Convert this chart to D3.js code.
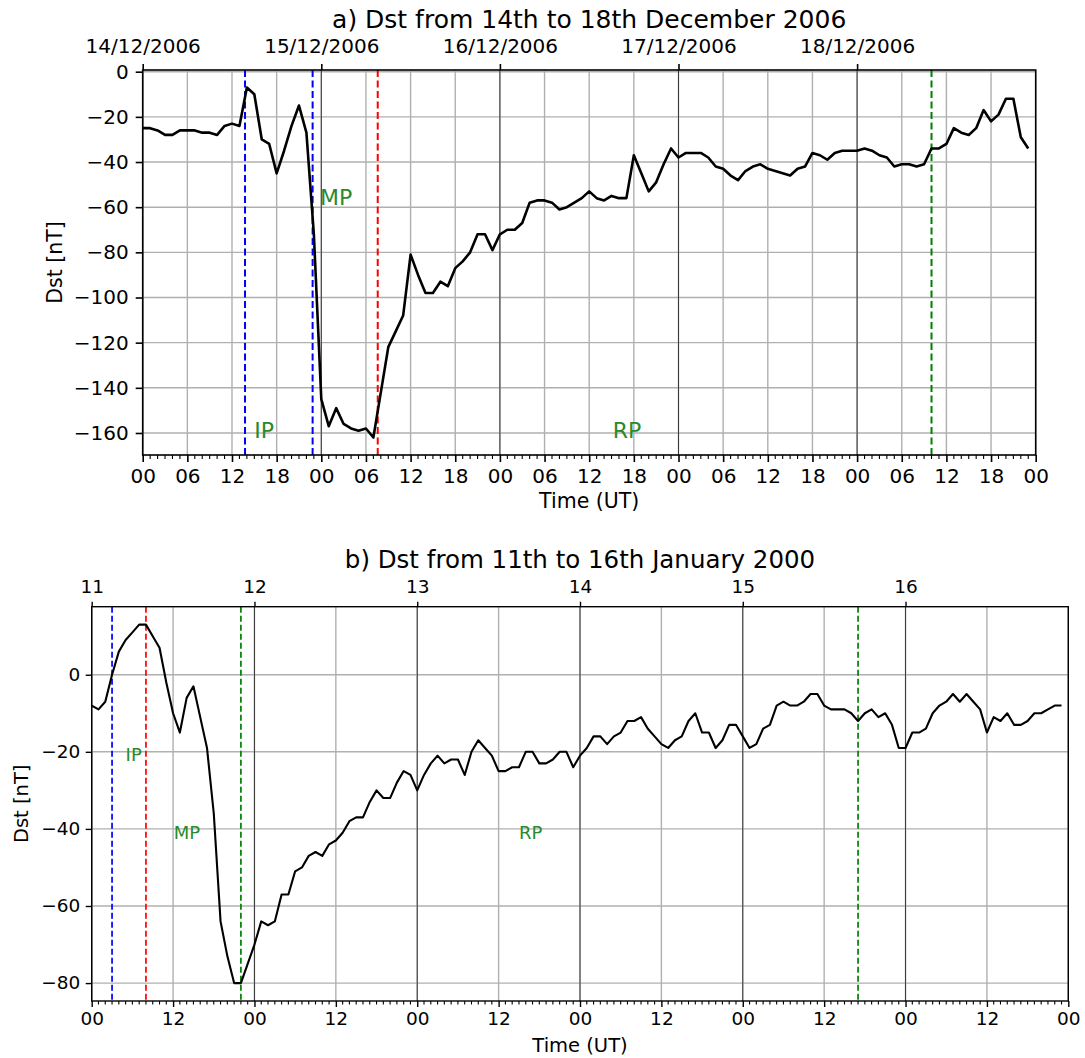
<!DOCTYPE html>
<html>
<head>
<meta charset="utf-8">
<script src="https://cdn.jsdelivr.net/npm/d3@7"></script>
<style>
  html, body { margin: 0; padding: 0; background: #fff; }
  svg { display: block; font-family: "DejaVu Sans", sans-serif; }
</style>
</head>
<body>
<svg id="chart" width="1085" height="1058"></svg>
<script>
// ---- Storm of 14-18 December 2006: hourly Dst [nT], starting 14/12/2006 00 UT ----
const decStart = "2006-12-14T00:00Z";
const decEnd = "2006-12-19T00:00Z";
const decDst = [
  -25, -25, -26, -28, -28, -26, -26, -26, -27, -27, -28, -24,
  -23, -24, -7, -10, -30, -32, -45, -35, -24, -15, -27, -72,
  -145, -157, -149, -156, -158, -159, -158, -162, -142, -122, -115, -108,
  -81, -90, -98, -98, -93, -95, -87, -84, -80, -72, -72, -79,
  -72, -70, -70, -67, -58, -57, -57, -58, -61, -60, -58, -56,
  -53, -56, -57, -55, -56, -56, -37, -45, -53, -49, -41, -34,
  -38, -36, -36, -36, -38, -42, -43, -46, -48, -44, -42, -41,
  -43, -44, -45, -46, -43, -42, -36, -37, -39, -36, -35, -35,
  -35, -34, -35, -37, -38, -42, -41, -41, -42, -41, -34, -34,
  -32, -25, -27, -28, -25, -17, -22, -19, -12, -12, -29, -34
];
const decEvents = [
  { time: "2006-12-14T13:45Z", color: "blue" },
  { time: "2006-12-14T22:50Z", color: "blue" },
  { time: "2006-12-15T07:35Z", color: "red" },
  { time: "2006-12-18T10:00Z", color: "green" }
];
const decPhases = [
  { text: "IP", time: "2006-12-14T15:00Z", value: -162 },
  { text: "MP", time: "2006-12-14T23:50Z", value: -59 },
  { text: "RP", time: "2006-12-16T15:10Z", value: -162 }
];
const decYTicks = [0, -20, -40, -60, -80, -100, -120, -140, -160];

// ---- Storm of 11-16 January 2000: hourly Dst [nT], starting 11/01/2000 00 UT ----
const janStart = "2000-01-11T00:00Z";
const janEnd = "2000-01-17T00:00Z";
const janDst = [
  -8, -9, -7, 0, 6, 9, 11, 13, 13, 10, 7, -2,
  -10, -15, -6, -3, -11, -19, -36, -64, -73, -80, -80, -75,
  -70, -64, -65, -64, -57, -57, -51, -50, -47, -46, -47, -44,
  -43, -41, -38, -37, -37, -33, -30, -32, -32, -28, -25, -26,
  -30, -26, -23, -21, -23, -22, -22, -26, -20, -17, -19, -21,
  -25, -25, -24, -24, -20, -20, -23, -23, -22, -20, -20, -24,
  -21, -19, -16, -16, -18, -16, -15, -12, -12, -11, -14, -16,
  -18, -19, -17, -16, -12, -10, -15, -15, -19, -17, -13, -13,
  -16, -19, -18, -14, -13, -8, -7, -8, -8, -7, -5, -5,
  -8, -9, -9, -9, -10, -12, -10, -9, -11, -10, -13, -19,
  -19, -15, -15, -14, -10, -8, -7, -5, -7, -5, -7, -9,
  -15, -11, -12, -10, -13, -13, -12, -10, -10, -9, -8, -8
];
const janEvents = [
  { time: "2000-01-11T03:00Z", color: "blue" },
  { time: "2000-01-11T08:00Z", color: "red" },
  { time: "2000-01-11T22:00Z", color: "green" },
  { time: "2000-01-15T17:00Z", color: "green" }
];
const janPhases = [
  { text: "IP", time: "2000-01-11T05:00Z", value: -22.5 },
  { text: "MP", time: "2000-01-11T12:05Z", value: -42.5 },
  { text: "RP", time: "2000-01-13T15:00Z", value: -42.5 }
];
const janYTicks = [0, -20, -40, -60, -80];

const svg = d3.select("#chart");
const minus = s => String(s).replace("-", "\u2212");

function drawPanel(cfg) {
  const t0 = new Date(cfg.start), t1 = new Date(cfg.end);
  const series = cfg.values.map((v, i) => ({ t: d3.utcHour.offset(t0, i), v }));

  const x = d3.scaleUtc().domain([t0, t1]).range([cfg.left, cfg.right]);
  const [lo, hi] = d3.extent(cfg.values);
  const pad = (hi - lo) * 0.05;
  const y = d3.scaleLinear().domain([lo - pad, hi + pad]).range([cfg.bottom, cfg.top]);

  const g = svg.append("g");

  // horizontal grid
  g.append("g").selectAll("line").data(cfg.yTicks).join("line")
    .attr("x1", cfg.left).attr("x2", cfg.right)
    .attr("y1", d => y(d)).attr("y2", d => y(d))
    .attr("stroke", "#b0b0b0").attr("stroke-width", 1.4);

  // vertical grid at the bottom-axis major ticks
  const majors = d3.utcHour.every(cfg.majorHours).range(t0, d3.utcHour.offset(t1, 1));
  g.append("g").selectAll("line").data(majors).join("line")
    .attr("x1", d => x(d)).attr("x2", d => x(d))
    .attr("y1", cfg.top).attr("y2", cfg.bottom)
    .attr("stroke", "#b0b0b0").attr("stroke-width", 1.4);

  // day boundaries from the date axis
  const days = d3.utcDay.range(t0, t1);
  g.append("g").selectAll("line").data(days).join("line")
    .attr("x1", d => x(d)).attr("x2", d => x(d))
    .attr("y1", cfg.top).attr("y2", cfg.bottom)
    .attr("stroke", "#3a3a3a").attr("stroke-width", 1);

  // phase boundary markers
  g.append("g").selectAll("line").data(cfg.events).join("line")
    .attr("x1", d => x(new Date(d.time))).attr("x2", d => x(new Date(d.time)))
    .attr("y1", cfg.top).attr("y2", cfg.bottom)
    .attr("stroke", d => d.color).attr("stroke-width", cfg.dashWidth)
    .attr("stroke-dasharray", cfg.dash);

  // Dst curve
  g.append("path").datum(series)
    .attr("fill", "none").attr("stroke", "#000")
    .attr("stroke-width", cfg.lineWidth).attr("stroke-linejoin", "round")
    .attr("d", d3.line().x(d => x(d.t)).y(d => y(d.v)));

  // phase labels
  g.append("g").selectAll("text").data(cfg.phases).join("text")
    .attr("x", d => x(new Date(d.time))).attr("y", d => y(d.value))
    .attr("fill", "#2a8a2a").attr("font-size", cfg.phaseFont)
    .text(d => d.text);

  // frame
  g.append("rect")
    .attr("x", cfg.left).attr("y", cfg.top)
    .attr("width", cfg.right - cfg.left).attr("height", cfg.bottom - cfg.top)
    .attr("fill", "none").attr("stroke", "#000").attr("stroke-width", cfg.spine);

  // bottom axis: hour of day
  const hourFmt = d3.utcFormat("%H");
  const bx = g.append("g").attr("transform", `translate(0,${cfg.bottom})`)
    .call(d3.axisBottom(x).tickValues(majors).tickFormat(hourFmt)
      .tickSize(cfg.tick).tickPadding(cfg.bottomPad));
  // hourly minor ticks
  const minors = d3.utcHour.range(t0, t1).filter(d => d.getUTCHours() % cfg.majorHours !== 0);
  g.append("g").selectAll("line").data(minors).join("line")
    .attr("x1", d => x(d)).attr("x2", d => x(d))
    .attr("y1", cfg.bottom).attr("y2", cfg.bottom + cfg.minorTick)
    .attr("stroke", "#000").attr("stroke-width", 1.1);

  // left axis
  const ly = g.append("g").attr("transform", `translate(${cfg.left},0)`)
    .call(d3.axisLeft(y).tickValues(cfg.yTicks).tickFormat(minus)
      .tickSize(cfg.tick).tickPadding(cfg.leftPad));

  // top axis: dates
  const tx = g.append("g").attr("transform", `translate(0,${cfg.top})`)
    .call(d3.axisTop(x).tickValues(days).tickFormat(d3.utcFormat(cfg.dayFormat))
      .tickSize(cfg.tick - 1).tickPadding(cfg.topPad));

  [bx, ly, tx].forEach(a => {
    a.select(".domain").remove();
    a.selectAll(".tick line").attr("stroke", "#000").attr("stroke-width", cfg.spine);
    a.selectAll(".tick text").attr("fill", "#000")
      .attr("font-size", cfg.tickFont).attr("font-family", "DejaVu Sans");
  });

  const cx = (cfg.left + cfg.right) / 2;
  const cy = (cfg.top + cfg.bottom) / 2;

  g.append("text").attr("x", cx).attr("y", cfg.titleY)
    .attr("text-anchor", "middle").attr("font-size", cfg.titleFont)
    .text(cfg.title);

  g.append("text").attr("x", cx).attr("y", cfg.xLabelY)
    .attr("text-anchor", "middle").attr("font-size", cfg.labelFont)
    .text("Time (UT)");

  g.append("text")
    .attr("transform", `translate(${cfg.yLabelX},${cy}) rotate(-90)`)
    .attr("text-anchor", "middle").attr("font-size", cfg.labelFont)
    .text("Dst [nT]");
}

drawPanel({
  title: "a) Dst from 14th to 18th December 2006",
  start: decStart, end: decEnd, values: decDst,
  events: decEvents, phases: decPhases, yTicks: decYTicks,
  left: 142.7, right: 1035.7, top: 70, bottom: 455,
  majorHours: 6, dayFormat: "%d/%m/%Y",
  tick: 7, minorTick: 4, bottomPad: 7, leftPad: 7, topPad: 11,
  tickFont: 20, labelFont: 20.5, titleFont: 25, phaseFont: 22,
  titleY: 28, xLabelY: 508, yLabelX: 62,
  lineWidth: 2.6, dashWidth: 2, dash: "7,3.5", spine: 1.6
});

drawPanel({
  title: "b) Dst from 11th to 16th January 2000",
  start: janStart, end: janEnd, values: janDst,
  events: janEvents, phases: janPhases, yTicks: janYTicks,
  left: 91.7, right: 1068.3, top: 606.7, bottom: 1001,
  majorHours: 12, dayFormat: "%-d",
  tick: 6, minorTick: 3.5, bottomPad: 5, leftPad: 5.5, topPad: 9,
  tickFont: 18.5, labelFont: 19.5, titleFont: 24.5, phaseFont: 18,
  titleY: 568, xLabelY: 1051.5, yLabelX: 28,
  lineWidth: 2.1, dashWidth: 1.7, dash: "6,3", spine: 1.4
});
</script>
</body>
</html>
